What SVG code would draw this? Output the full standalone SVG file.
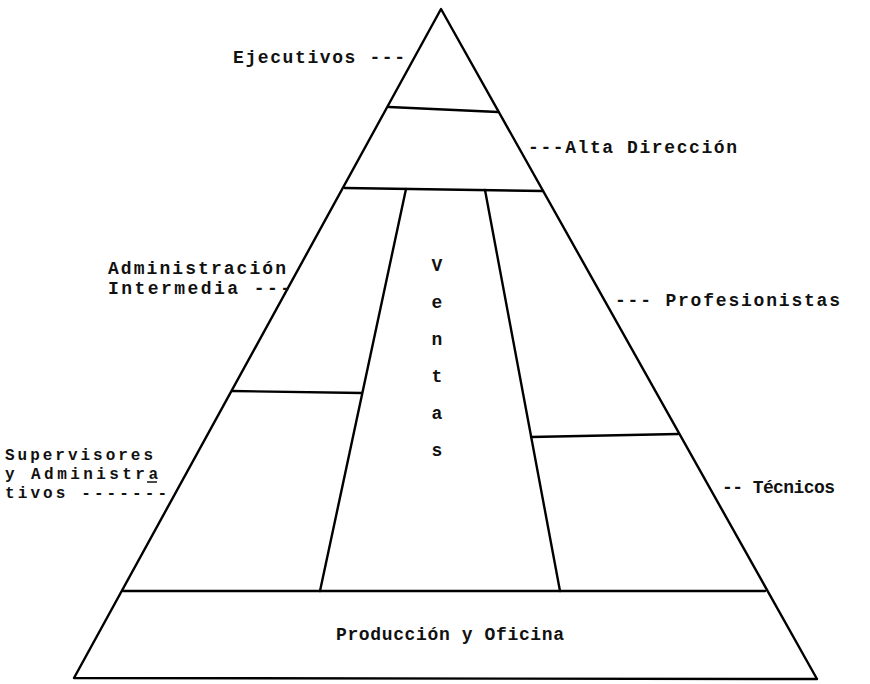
<svg xmlns="http://www.w3.org/2000/svg" width="870" height="684" viewBox="0 0 870 684">
<style>
.ln{stroke:#000;stroke-width:2.4;fill:none;stroke-linejoin:round;stroke-linecap:round}
.t{font-family:"Liberation Mono","DejaVu Sans Mono",monospace;font-size:18px;font-weight:bold;fill:#111}
.s{font-size:16px}
</style>
<rect width="870" height="684" fill="#fff"/>
<g id="connectors">
<polygon class="ln" points="441,9 74,678 817,679"/>
<line class="ln" x1="389" y1="107" x2="498" y2="112"/>
<line class="ln" x1="345" y1="188" x2="543" y2="191"/>
<line class="ln" x1="406" y1="189" x2="320" y2="591"/>
<line class="ln" x1="485" y1="190" x2="560" y2="591"/>
<line class="ln" x1="232" y1="391" x2="362" y2="393"/>
<line class="ln" x1="531" y1="437" x2="678" y2="434"/>
<line class="ln" x1="123" y1="591" x2="765" y2="591"/>
</g>
<g id="ejecutivos"><text class="t" x="233" y="63" textLength="172">Ejecutivos ---</text></g>
<g id="alta"><text class="t" x="528" y="153" textLength="209">---Alta Dirección</text></g>
<g id="intermedia">
<text class="t" x="108" y="274" textLength="178">Administración</text>
<text class="t" x="108" y="294" textLength="183">Intermedia ---</text>
</g>
<g id="profesionistas"><text class="t" x="615" y="306" textLength="225">--- Profesionistas</text></g>
<g id="ventas">
<text class="t" x="437" y="271" text-anchor="middle">V</text>
<text class="t" x="437" y="308" text-anchor="middle">e</text>
<text class="t" x="437" y="345" text-anchor="middle">n</text>
<text class="t" x="437" y="382" text-anchor="middle">t</text>
<text class="t" x="437" y="419" text-anchor="middle">a</text>
<text class="t" x="437" y="456" text-anchor="middle">s</text>
</g>
<g id="supervisores">
<text class="t s" x="5" y="460" textLength="148">Supervisores</text>
<text class="t s" x="5" y="479" textLength="153">y Administra</text>
<line x1="147" y1="482" x2="157" y2="482" stroke="#111" stroke-width="1.5"/>
<text class="t s" x="5" y="498" textLength="162">tivos -------</text>
</g>
<g id="tecnicos"><text class="t" x="722" y="493" textLength="113">-- Técnicos</text></g>
<g id="produccion"><text class="t" x="336" y="640" textLength="228">Producción y Oficina</text></g>
</svg>
